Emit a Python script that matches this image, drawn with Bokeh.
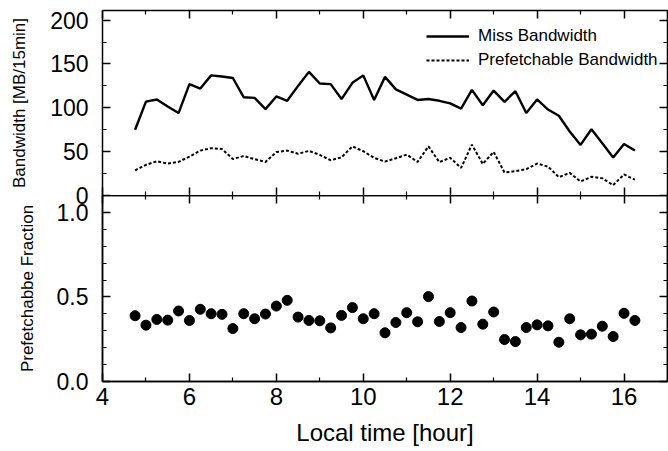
from bokeh.plotting import figure
from bokeh.layouts import column
from bokeh.models import (LinearAxis, FixedTicker, Range1d, Legend, LegendItem,
                          PrintfTickFormatter, CustomLabelingPolicy)
from bokeh.embed import file_html
from bokeh.resources import INLINE

# ---- data ----
hours = [4.75, 5.0, 5.25, 5.5, 5.75, 6.0, 6.25, 6.5, 6.75, 7.0, 7.25, 7.5, 7.75,
         8.0, 8.25, 8.5, 8.75, 9.0, 9.25, 9.5, 9.75, 10.0, 10.25, 10.5, 10.75,
         11.0, 11.25, 11.5, 11.75, 12.0, 12.25, 12.5, 12.75, 13.0, 13.25, 13.5,
         13.75, 14.0, 14.25, 14.5, 14.75, 15.0, 15.25, 15.5, 15.75, 16.0, 16.25]
miss_bw = [75, 107, 109.5, 101.5, 94, 127, 122, 137, 135.7, 134, 112, 111.4, 98.5,
           113, 108, 125, 141, 127.7, 127, 110, 128.5, 137, 109, 135.3, 121,
           115, 109, 110, 108, 105, 99, 120.5, 103, 119.7, 106.8, 119,
           94, 109.5, 98, 91, 73, 57.7, 75.6, 59.6, 43.3, 58.8, 51.4]
pref_bw = [28.7, 35, 39, 36.4, 38.3, 44.4, 51.2, 53.9, 53, 41.7, 45, 41.4, 38.3,
           49.5, 51.2, 47.6, 50.9, 46.3, 40.2, 43.6, 56, 50.5, 43, 38.7, 42.5,
           46.6, 38.3, 56, 38, 43, 31.5, 58, 36, 49.7, 26.2, 27.7,
           30, 36.4, 33, 20.9, 25.8, 16, 21.3, 19.7, 11.8, 24, 18]
fraction = [0.389, 0.333, 0.367, 0.363, 0.417, 0.361, 0.427, 0.401, 0.397, 0.313,
            0.401, 0.371, 0.399, 0.446, 0.480, 0.381, 0.361, 0.359, 0.317, 0.391,
            0.437, 0.371, 0.401, 0.288, 0.349, 0.407, 0.353, 0.502, 0.355, 0.407,
            0.319, 0.476, 0.339, 0.411, 0.248, 0.236, 0.319, 0.335, 0.329, 0.232,
            0.371, 0.276, 0.280, 0.327, 0.266, 0.403, 0.361]

x_major = [4, 6, 8, 10, 12, 14, 16]
x_minor = [5, 7, 9, 11, 13, 15, 17]
bw_major = [0, 50, 100, 150, 200]
bw_minor = [25, 75, 125, 175]
fr_major = [0.0, 0.5, 1.0]
fr_minor = [0.1, 0.2, 0.3, 0.4, 0.6, 0.7, 0.8, 0.9]

FONT = "Liberation Sans"


def style_axis(ax, major, minor, labels, size="23px"):
    ax.ticker = FixedTicker(ticks=major, minor_ticks=minor)
    ax.major_tick_in = 8
    ax.major_tick_out = 0
    ax.minor_tick_in = 4
    ax.minor_tick_out = 0
    ax.axis_line_width = 1.5
    ax.major_tick_line_width = 1.5
    ax.minor_tick_line_width = 1.2
    ax.axis_line_color = "black"
    ax.major_tick_line_color = "black"
    ax.minor_tick_line_color = "black"
    if labels:
        ax.major_label_text_font = FONT
        ax.major_label_text_font_size = size
        ax.major_label_text_color = "black"
    else:
        ax.major_label_text_font_size = "0px"
        ax.major_label_standoff = 0
        ax.major_label_policy = CustomLabelingPolicy(code="return []")
    ax.axis_label_text_font = FONT
    ax.axis_label_text_font_style = "normal"
    ax.axis_label_text_color = "black"


x_range = Range1d(4, 17)
OVERLAP = 14

# ---- top panel ----
top = figure(width=668, height=195 + OVERLAP, x_range=x_range, y_range=Range1d(0, 211),
             output_backend="svg", toolbar_location=None,
             x_axis_location=None, y_axis_location=None,
             min_border_left=102, min_border_right=1,
             min_border_top=10, min_border_bottom=OVERLAP)
top.grid.visible = False
top.outline_line_color = None

ax = LinearAxis(); style_axis(ax, bw_major, bw_minor, True)
ax.major_label_standoff = 14
ax.axis_label = "Bandwidth [MB/15min]"
ax.axis_label_text_font_size = "17px"
ax.axis_label_standoff = 18
top.add_layout(ax, "left")
a = LinearAxis(); style_axis(a, bw_major, bw_minor, False)
top.add_layout(a, "right")
a = LinearAxis(); style_axis(a, x_major, x_minor, False)
top.add_layout(a, "above")
a = LinearAxis(); style_axis(a, x_major, x_minor, False)
a.axis_line_color = None
top.add_layout(a, "below")

r_miss = top.line(hours, miss_bw, line_color="black", line_width=2.4)
r_pref = top.line(hours, pref_bw, line_color="black", line_width=2.0,
                  line_dash="3 2")

legend = Legend(items=[LegendItem(label="Miss Bandwidth", renderers=[r_miss]),
                       LegendItem(label="Prefetchable Bandwidth", renderers=[r_pref])],
                location=(324, 125), background_fill_alpha=0,
                border_line_alpha=0, padding=0, margin=0, spacing=4,
                glyph_width=43, glyph_height=20, label_height=20,
                label_standoff=9, label_text_font=FONT,
                label_text_font_size="17px", label_text_color="black")
top.add_layout(legend, "center")

# ---- bottom panel ----
bot = figure(width=668, height=256, x_range=x_range, y_range=Range1d(0, 1.1),
             output_backend="svg", toolbar_location=None,
             x_axis_location=None, y_axis_location=None,
             min_border_left=102, min_border_right=1,
             min_border_top=0, min_border_bottom=70,
             margin=(-OVERLAP, 0, 0, 0))
bot.grid.visible = False
bot.border_fill_alpha = 0
bot.outline_line_color = "black"
bot.outline_line_width = 1.5

ay = LinearAxis(); style_axis(ay, fr_major, fr_minor, True)
ay.formatter = PrintfTickFormatter(format="%.1f")
ay.major_label_standoff = 14
ay.axis_label = "Prefetchabbe Fraction"
ay.axis_label_text_font_size = "17px"
ay.axis_label_standoff = 17
bot.add_layout(ay, "left")

ax2 = LinearAxis(); style_axis(ax2, x_major, x_minor, True, size="24px")
ax2.major_label_standoff = 6
ax2.axis_label = "Local time [hour]"
ax2.axis_label_text_font_size = "24px"
ax2.axis_label_standoff = 11
bot.add_layout(ax2, "below")

a = LinearAxis(); style_axis(a, fr_major, fr_minor, False)
bot.add_layout(a, "right")
a = LinearAxis(); style_axis(a, x_major, x_minor, False)
bot.add_layout(a, "above")

bot.scatter(hours, fraction, size=10, marker="circle",
            fill_color="black", line_color="black")

layout = column(top, bot, spacing=0)
open("out.html", "w").write(file_html(layout, INLINE))
